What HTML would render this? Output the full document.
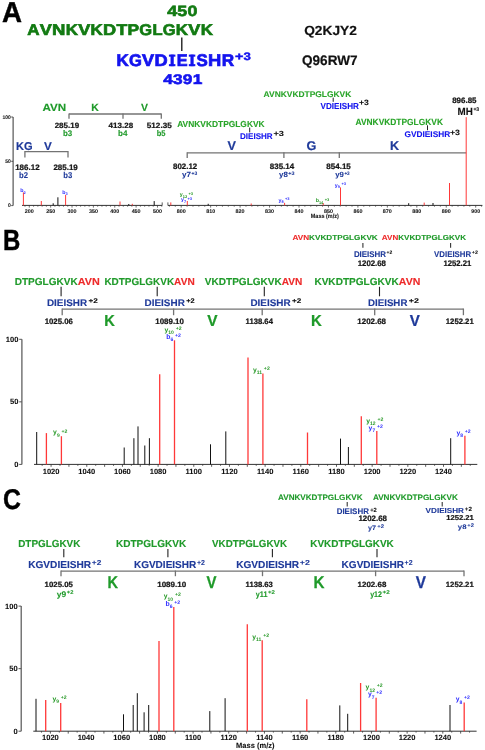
<!DOCTYPE html>
<html><head><meta charset="utf-8"><style>
html,body{margin:0;padding:0;background:#fff;}
svg{display:block;will-change:transform;}
text{font-family:"Liberation Sans",sans-serif;text-rendering:geometricPrecision;}
</style></head><body>
<svg width="485" height="750" viewBox="0 0 485 750">
<rect width="485" height="750" fill="#fff"/>
<text x="2.10" y="21.60" font-size="28.78" fill="#000" font-weight="bold" textLength="20.00" lengthAdjust="spacingAndGlyphs" stroke="#000" stroke-width="0.43">A</text>
<text x="27.24" y="35.00" font-size="15.55" fill="#127a12" font-weight="bold" textLength="12.29" lengthAdjust="spacingAndGlyphs" stroke="#127a12" stroke-width="0.66">A</text>
<text x="39.78" y="35.00" font-size="15.55" fill="#127a12" font-weight="bold" textLength="12.10" lengthAdjust="spacingAndGlyphs" stroke="#127a12" stroke-width="0.66">V</text>
<text x="52.14" y="35.00" font-size="15.55" fill="#127a12" font-weight="bold" textLength="13.41" lengthAdjust="spacingAndGlyphs" stroke="#127a12" stroke-width="0.66">N</text>
<text x="65.81" y="35.00" font-size="15.55" fill="#127a12" font-weight="bold" textLength="12.21" lengthAdjust="spacingAndGlyphs" stroke="#127a12" stroke-width="0.66">K</text>
<text x="78.27" y="35.00" font-size="15.55" fill="#127a12" font-weight="bold" textLength="12.10" lengthAdjust="spacingAndGlyphs" stroke="#127a12" stroke-width="0.66">V</text>
<text x="90.61" y="35.00" font-size="15.55" fill="#127a12" font-weight="bold" textLength="12.21" lengthAdjust="spacingAndGlyphs" stroke="#127a12" stroke-width="0.66">K</text>
<text x="103.08" y="35.00" font-size="15.55" fill="#127a12" font-weight="bold" textLength="13.14" lengthAdjust="spacingAndGlyphs" stroke="#127a12" stroke-width="0.66">D</text>
<text x="116.47" y="35.00" font-size="15.55" fill="#127a12" font-weight="bold" textLength="10.80" lengthAdjust="spacingAndGlyphs" stroke="#127a12" stroke-width="0.66">T</text>
<text x="127.50" y="35.00" font-size="15.55" fill="#127a12" font-weight="bold" textLength="11.61" lengthAdjust="spacingAndGlyphs" stroke="#127a12" stroke-width="0.66">P</text>
<text x="139.35" y="35.00" font-size="15.55" fill="#127a12" font-weight="bold" textLength="12.84" lengthAdjust="spacingAndGlyphs" stroke="#127a12" stroke-width="0.66">G</text>
<text x="152.43" y="35.00" font-size="15.55" fill="#127a12" font-weight="bold" textLength="10.09" lengthAdjust="spacingAndGlyphs" stroke="#127a12" stroke-width="0.66">L</text>
<text x="162.75" y="35.00" font-size="15.55" fill="#127a12" font-weight="bold" textLength="12.84" lengthAdjust="spacingAndGlyphs" stroke="#127a12" stroke-width="0.66">G</text>
<text x="175.85" y="35.00" font-size="15.55" fill="#127a12" font-weight="bold" textLength="12.21" lengthAdjust="spacingAndGlyphs" stroke="#127a12" stroke-width="0.66">K</text>
<text x="188.31" y="35.00" font-size="15.55" fill="#127a12" font-weight="bold" textLength="12.10" lengthAdjust="spacingAndGlyphs" stroke="#127a12" stroke-width="0.66">V</text>
<text x="200.65" y="35.00" font-size="15.55" fill="#127a12" font-weight="bold" textLength="12.21" lengthAdjust="spacingAndGlyphs" stroke="#127a12" stroke-width="0.66">K</text>
<text x="167.17" y="15.50" font-size="14.83" fill="#127a12" font-weight="bold" textLength="9.92" lengthAdjust="spacingAndGlyphs" stroke="#127a12" stroke-width="0.63">4</text>
<text x="177.29" y="15.50" font-size="14.83" fill="#127a12" font-weight="bold" textLength="9.92" lengthAdjust="spacingAndGlyphs" stroke="#127a12" stroke-width="0.63">5</text>
<text x="187.41" y="15.50" font-size="14.83" fill="#127a12" font-weight="bold" textLength="9.92" lengthAdjust="spacingAndGlyphs" stroke="#127a12" stroke-width="0.63">0</text>
<line x1="181.80" y1="37.50" x2="181.80" y2="51.00" stroke="#111" stroke-width="1.3"/>
<text x="116.44" y="66.20" font-size="16.86" fill="#1414ee" font-weight="bold" textLength="12.23" lengthAdjust="spacingAndGlyphs" stroke="#1414ee" stroke-width="0.72">K</text>
<text x="128.93" y="66.20" font-size="16.86" fill="#1414ee" font-weight="bold" textLength="12.87" lengthAdjust="spacingAndGlyphs" stroke="#1414ee" stroke-width="0.72">G</text>
<text x="142.05" y="66.20" font-size="16.86" fill="#1414ee" font-weight="bold" textLength="12.12" lengthAdjust="spacingAndGlyphs" stroke="#1414ee" stroke-width="0.72">V</text>
<text x="154.43" y="66.20" font-size="16.86" fill="#1414ee" font-weight="bold" textLength="13.17" lengthAdjust="spacingAndGlyphs" stroke="#1414ee" stroke-width="0.72">D</text>
<rect x="170.56" y="54.60" width="3.19" height="11.60" fill="#1414ee"/>
<rect x="168.92" y="54.60" width="6.48" height="2.07" fill="#1414ee"/>
<rect x="168.92" y="64.13" width="6.48" height="2.07" fill="#1414ee"/>
<text x="176.69" y="66.20" font-size="16.86" fill="#1414ee" font-weight="bold" textLength="10.84" lengthAdjust="spacingAndGlyphs" stroke="#1414ee" stroke-width="0.72">E</text>
<rect x="190.46" y="54.60" width="3.19" height="11.60" fill="#1414ee"/>
<rect x="188.82" y="54.60" width="6.48" height="2.07" fill="#1414ee"/>
<rect x="188.82" y="64.13" width="6.48" height="2.07" fill="#1414ee"/>
<text x="196.59" y="66.20" font-size="16.86" fill="#1414ee" font-weight="bold" textLength="11.27" lengthAdjust="spacingAndGlyphs" stroke="#1414ee" stroke-width="0.72">S</text>
<text x="208.11" y="66.20" font-size="16.86" fill="#1414ee" font-weight="bold" textLength="13.28" lengthAdjust="spacingAndGlyphs" stroke="#1414ee" stroke-width="0.72">H</text>
<text x="221.65" y="66.20" font-size="16.86" fill="#1414ee" font-weight="bold" textLength="12.41" lengthAdjust="spacingAndGlyphs" stroke="#1414ee" stroke-width="0.72">R</text>
<text x="235.07" y="60.30" font-size="10.76" fill="#1414ee" font-weight="bold" textLength="8.40" lengthAdjust="spacingAndGlyphs" stroke="#1414ee" stroke-width="0.46">+</text>
<text x="243.64" y="60.30" font-size="10.76" fill="#1414ee" font-weight="bold" textLength="7.30" lengthAdjust="spacingAndGlyphs" stroke="#1414ee" stroke-width="0.46">3</text>
<text x="163.18" y="83.60" font-size="13.95" fill="#1414ee" font-weight="bold" textLength="9.64" lengthAdjust="spacingAndGlyphs" stroke="#1414ee" stroke-width="0.59">4</text>
<text x="173.02" y="83.60" font-size="13.95" fill="#1414ee" font-weight="bold" textLength="9.64" lengthAdjust="spacingAndGlyphs" stroke="#1414ee" stroke-width="0.59">3</text>
<text x="182.85" y="83.60" font-size="13.95" fill="#1414ee" font-weight="bold" textLength="9.64" lengthAdjust="spacingAndGlyphs" stroke="#1414ee" stroke-width="0.59">9</text>
<text x="192.68" y="83.60" font-size="13.95" fill="#1414ee" font-weight="bold" textLength="9.64" lengthAdjust="spacingAndGlyphs" stroke="#1414ee" stroke-width="0.59">1</text>
<rect x="194.99" y="81.88" width="5.81" height="1.72" fill="#1414ee"/>
<text x="304.20" y="35.10" font-size="13.23" fill="#111111" font-weight="bold" textLength="52.60" lengthAdjust="spacingAndGlyphs" stroke="#111111" stroke-width="0.2">Q2KJY2</text>
<text x="302.00" y="65.30" font-size="13.81" fill="#111111" font-weight="bold" textLength="55.60" lengthAdjust="spacingAndGlyphs" stroke="#111111" stroke-width="0.21">Q96RW7</text>
<text x="42.50" y="111.20" font-size="10.47" fill="#1f9a2a" font-weight="bold" textLength="23.70" lengthAdjust="spacingAndGlyphs" stroke="#1f9a2a" stroke-width="0.13">AVN</text>
<text x="91.22" y="111.20" font-size="10.47" fill="#1f9a2a" font-weight="bold" textLength="7.56" lengthAdjust="spacingAndGlyphs" stroke="#1f9a2a" stroke-width="0.13">K</text>
<text x="141.11" y="111.20" font-size="10.47" fill="#1f9a2a" font-weight="bold" textLength="6.98" lengthAdjust="spacingAndGlyphs" stroke="#1f9a2a" stroke-width="0.13">V</text>
<line x1="69.00" y1="114.00" x2="161.30" y2="114.00" stroke="#737373" stroke-width="1.3"/>
<line x1="69.00" y1="113.40" x2="69.00" y2="118.70" stroke="#737373" stroke-width="1.3"/>
<line x1="123.00" y1="113.40" x2="123.00" y2="118.70" stroke="#737373" stroke-width="1.3"/>
<line x1="161.30" y1="113.40" x2="161.30" y2="118.70" stroke="#737373" stroke-width="1.3"/>
<text x="54.70" y="127.90" font-size="7.70" fill="#151515" font-weight="bold" textLength="24.40" lengthAdjust="spacingAndGlyphs" stroke="#151515" stroke-width="0.23">285.19</text>
<text x="108.60" y="127.90" font-size="7.70" fill="#151515" font-weight="bold" textLength="24.50" lengthAdjust="spacingAndGlyphs" stroke="#151515" stroke-width="0.23">413.28</text>
<text x="146.80" y="127.90" font-size="7.70" fill="#151515" font-weight="bold" textLength="24.90" lengthAdjust="spacingAndGlyphs" stroke="#151515" stroke-width="0.23">512.35</text>
<text x="63.00" y="135.80" font-size="8.14" fill="#1f9a2a" font-weight="bold" textLength="9.30" lengthAdjust="spacingAndGlyphs" stroke="#1f9a2a" stroke-width="0.1">b3</text>
<text x="118.00" y="135.80" font-size="8.14" fill="#1f9a2a" font-weight="bold" textLength="9.40" lengthAdjust="spacingAndGlyphs" stroke="#1f9a2a" stroke-width="0.1">b4</text>
<text x="156.70" y="135.80" font-size="8.14" fill="#1f9a2a" font-weight="bold" textLength="8.90" lengthAdjust="spacingAndGlyphs" stroke="#1f9a2a" stroke-width="0.1">b5</text>
<text x="16.00" y="149.60" font-size="11.34" fill="#1f3a9a" font-weight="bold" textLength="16.60" lengthAdjust="spacingAndGlyphs" stroke="#1f3a9a" stroke-width="0.17">KG</text>
<text x="44.00" y="149.60" font-size="11.34" fill="#1f3a9a" font-weight="bold" textLength="7.80" lengthAdjust="spacingAndGlyphs" stroke="#1f3a9a" stroke-width="0.17">V</text>
<line x1="24.90" y1="151.60" x2="68.00" y2="151.60" stroke="#737373" stroke-width="1.3"/>
<line x1="24.90" y1="151.00" x2="24.90" y2="157.40" stroke="#737373" stroke-width="1.3"/>
<line x1="68.00" y1="151.00" x2="68.00" y2="157.40" stroke="#737373" stroke-width="1.3"/>
<text x="15.20" y="169.60" font-size="7.85" fill="#151515" font-weight="bold" textLength="24.40" lengthAdjust="spacingAndGlyphs" stroke="#151515" stroke-width="0.24">186.12</text>
<text x="53.40" y="169.60" font-size="7.85" fill="#151515" font-weight="bold" textLength="24.40" lengthAdjust="spacingAndGlyphs" stroke="#151515" stroke-width="0.24">285.19</text>
<text x="19.00" y="177.60" font-size="8.43" fill="#1f3a9a" font-weight="bold" textLength="9.00" lengthAdjust="spacingAndGlyphs" stroke="#1f3a9a" stroke-width="0.1">b2</text>
<text x="63.20" y="177.60" font-size="8.43" fill="#1f3a9a" font-weight="bold" textLength="9.00" lengthAdjust="spacingAndGlyphs" stroke="#1f3a9a" stroke-width="0.1">b3</text>
<text x="177.20" y="127.30" font-size="8.72" fill="#2aa52a" font-weight="bold" textLength="87.40" lengthAdjust="spacingAndGlyphs" stroke="#2aa52a" stroke-width="0.1">AVNKVKDTPGLGKVK</text>
<line x1="249.70" y1="127.60" x2="249.70" y2="132.40" stroke="#222" stroke-width="1"/>
<text x="240.00" y="139.30" font-size="8.28" fill="#1414ee" font-weight="bold" textLength="32.70" lengthAdjust="spacingAndGlyphs" stroke="#1414ee" stroke-width="0.1">DIEISHR</text>
<text x="273.40" y="136.10" font-size="7.41" fill="#111111" font-weight="bold" textLength="10.50" lengthAdjust="spacingAndGlyphs" stroke="#111111" stroke-width="0.09">+3</text>
<text x="227.38" y="150.00" font-size="12.65" fill="#1f3a9a" font-weight="bold" textLength="8.43" lengthAdjust="spacingAndGlyphs" stroke="#1f3a9a" stroke-width="0.19">V</text>
<text x="306.48" y="150.00" font-size="12.65" fill="#1f3a9a" font-weight="bold" textLength="9.84" lengthAdjust="spacingAndGlyphs" stroke="#1f3a9a" stroke-width="0.19">G</text>
<text x="390.03" y="150.00" font-size="12.65" fill="#1f3a9a" font-weight="bold" textLength="9.13" lengthAdjust="spacingAndGlyphs" stroke="#1f3a9a" stroke-width="0.19">K</text>
<line x1="187.20" y1="152.80" x2="466.20" y2="152.80" stroke="#737373" stroke-width="1.3"/>
<line x1="187.20" y1="152.20" x2="187.20" y2="158.10" stroke="#737373" stroke-width="1.3"/>
<line x1="283.90" y1="152.20" x2="283.90" y2="158.10" stroke="#737373" stroke-width="1.3"/>
<line x1="339.30" y1="152.20" x2="339.30" y2="158.10" stroke="#737373" stroke-width="1.3"/>
<text x="173.00" y="169.10" font-size="7.85" fill="#151515" font-weight="bold" textLength="24.20" lengthAdjust="spacingAndGlyphs" stroke="#151515" stroke-width="0.24">802.12</text>
<text x="269.80" y="169.00" font-size="7.85" fill="#151515" font-weight="bold" textLength="24.40" lengthAdjust="spacingAndGlyphs" stroke="#151515" stroke-width="0.24">835.14</text>
<text x="326.30" y="169.00" font-size="7.85" fill="#151515" font-weight="bold" textLength="24.50" lengthAdjust="spacingAndGlyphs" stroke="#151515" stroke-width="0.24">854.15</text>
<text x="182.00" y="177.20" font-size="7.56" fill="#1f3a9a" font-weight="bold" textLength="9.00" lengthAdjust="spacingAndGlyphs" stroke="#1f3a9a" stroke-width="0.09">y7</text>
<text x="191.50" y="175.20" font-size="4.94" fill="#1f3a9a" font-weight="bold" textLength="5.70" lengthAdjust="spacingAndGlyphs" stroke="#1f3a9a" stroke-width="0.06">+3</text>
<text x="279.00" y="177.20" font-size="7.56" fill="#1f3a9a" font-weight="bold" textLength="8.80" lengthAdjust="spacingAndGlyphs" stroke="#1f3a9a" stroke-width="0.09">y8</text>
<text x="288.30" y="175.20" font-size="4.94" fill="#1f3a9a" font-weight="bold" textLength="6.20" lengthAdjust="spacingAndGlyphs" stroke="#1f3a9a" stroke-width="0.06">+3</text>
<text x="335.30" y="177.20" font-size="7.56" fill="#1f3a9a" font-weight="bold" textLength="8.60" lengthAdjust="spacingAndGlyphs" stroke="#1f3a9a" stroke-width="0.09">y9</text>
<text x="344.40" y="175.20" font-size="4.94" fill="#1f3a9a" font-weight="bold" textLength="5.30" lengthAdjust="spacingAndGlyphs" stroke="#1f3a9a" stroke-width="0.06">+3</text>
<text x="263.60" y="97.00" font-size="8.14" fill="#2aa52a" font-weight="bold" textLength="87.70" lengthAdjust="spacingAndGlyphs" stroke="#2aa52a" stroke-width="0.1">AVNKVKDTPGLGKVK</text>
<line x1="333.20" y1="97.60" x2="333.20" y2="101.80" stroke="#222" stroke-width="1"/>
<text x="320.60" y="108.60" font-size="8.72" fill="#1414ee" font-weight="bold" textLength="38.30" lengthAdjust="spacingAndGlyphs" stroke="#1414ee" stroke-width="0.1">VDIEISHR</text>
<text x="358.90" y="105.30" font-size="7.70" fill="#111111" font-weight="bold" textLength="9.90" lengthAdjust="spacingAndGlyphs" stroke="#111111" stroke-width="0.09">+3</text>
<text x="355.50" y="125.00" font-size="9.01" fill="#2aa52a" font-weight="bold" textLength="87.50" lengthAdjust="spacingAndGlyphs" stroke="#2aa52a" stroke-width="0.11">AVNKVKDTPGLGKVK</text>
<line x1="427.50" y1="125.30" x2="427.50" y2="130.20" stroke="#222" stroke-width="1"/>
<text x="404.50" y="137.30" font-size="8.28" fill="#1414ee" font-weight="bold" textLength="45.70" lengthAdjust="spacingAndGlyphs" stroke="#1414ee" stroke-width="0.1">GVDIEISHR</text>
<text x="449.90" y="135.30" font-size="7.70" fill="#111111" font-weight="bold" textLength="10.10" lengthAdjust="spacingAndGlyphs" stroke="#111111" stroke-width="0.09">+3</text>
<text x="452.20" y="103.00" font-size="7.85" fill="#151515" font-weight="bold" textLength="24.30" lengthAdjust="spacingAndGlyphs" stroke="#151515" stroke-width="0.24">896.85</text>
<text x="457.60" y="115.20" font-size="10.47" fill="#111111" font-weight="bold" textLength="15.30" lengthAdjust="spacingAndGlyphs" stroke="#111111" stroke-width="0.13">MH</text>
<text x="473.40" y="110.80" font-size="5.52" fill="#111111" font-weight="bold" textLength="5.80" lengthAdjust="spacingAndGlyphs" stroke="#111111" stroke-width="0.07">+3</text>
<line x1="13.10" y1="117.00" x2="13.10" y2="205.60" stroke="#333" stroke-width="1"/>
<line x1="11.20" y1="117.00" x2="13.10" y2="117.00" stroke="#333" stroke-width="0.8"/>
<text x="2.46" y="118.80" font-size="5.23" fill="#111111" font-weight="bold" textLength="8.34" lengthAdjust="spacingAndGlyphs" stroke="#111111" stroke-width="0.06">100</text>
<line x1="11.20" y1="161.30" x2="13.10" y2="161.30" stroke="#333" stroke-width="0.8"/>
<text x="5.24" y="163.10" font-size="5.23" fill="#111111" font-weight="bold" textLength="5.56" lengthAdjust="spacingAndGlyphs" stroke="#111111" stroke-width="0.06">50</text>
<line x1="11.20" y1="205.60" x2="13.10" y2="205.60" stroke="#333" stroke-width="0.8"/>
<text x="8.02" y="207.40" font-size="5.23" fill="#111111" font-weight="bold" textLength="2.78" lengthAdjust="spacingAndGlyphs" stroke="#111111" stroke-width="0.06">0</text>
<line x1="22.00" y1="205.40" x2="162.20" y2="205.40" stroke="#333" stroke-width="1"/>
<line x1="162.20" y1="205.40" x2="162.20" y2="202.40" stroke="#333" stroke-width="0.8"/>
<line x1="25.03" y1="205.40" x2="25.03" y2="206.70" stroke="#333" stroke-width="0.7"/>
<line x1="29.30" y1="205.40" x2="29.30" y2="207.60" stroke="#333" stroke-width="0.7"/>
<line x1="33.57" y1="205.40" x2="33.57" y2="206.70" stroke="#333" stroke-width="0.7"/>
<line x1="37.85" y1="205.40" x2="37.85" y2="206.70" stroke="#333" stroke-width="0.7"/>
<line x1="42.12" y1="205.40" x2="42.12" y2="206.70" stroke="#333" stroke-width="0.7"/>
<line x1="46.39" y1="205.40" x2="46.39" y2="206.70" stroke="#333" stroke-width="0.7"/>
<line x1="50.67" y1="205.40" x2="50.67" y2="207.60" stroke="#333" stroke-width="0.7"/>
<line x1="54.94" y1="205.40" x2="54.94" y2="206.70" stroke="#333" stroke-width="0.7"/>
<line x1="59.21" y1="205.40" x2="59.21" y2="206.70" stroke="#333" stroke-width="0.7"/>
<line x1="63.48" y1="205.40" x2="63.48" y2="206.70" stroke="#333" stroke-width="0.7"/>
<line x1="67.76" y1="205.40" x2="67.76" y2="206.70" stroke="#333" stroke-width="0.7"/>
<line x1="72.03" y1="205.40" x2="72.03" y2="207.60" stroke="#333" stroke-width="0.7"/>
<line x1="76.30" y1="205.40" x2="76.30" y2="206.70" stroke="#333" stroke-width="0.7"/>
<line x1="80.58" y1="205.40" x2="80.58" y2="206.70" stroke="#333" stroke-width="0.7"/>
<line x1="84.85" y1="205.40" x2="84.85" y2="206.70" stroke="#333" stroke-width="0.7"/>
<line x1="89.12" y1="205.40" x2="89.12" y2="206.70" stroke="#333" stroke-width="0.7"/>
<line x1="93.39" y1="205.40" x2="93.39" y2="207.60" stroke="#333" stroke-width="0.7"/>
<line x1="97.67" y1="205.40" x2="97.67" y2="206.70" stroke="#333" stroke-width="0.7"/>
<line x1="101.94" y1="205.40" x2="101.94" y2="206.70" stroke="#333" stroke-width="0.7"/>
<line x1="106.21" y1="205.40" x2="106.21" y2="206.70" stroke="#333" stroke-width="0.7"/>
<line x1="110.49" y1="205.40" x2="110.49" y2="206.70" stroke="#333" stroke-width="0.7"/>
<line x1="114.76" y1="205.40" x2="114.76" y2="207.60" stroke="#333" stroke-width="0.7"/>
<line x1="119.03" y1="205.40" x2="119.03" y2="206.70" stroke="#333" stroke-width="0.7"/>
<line x1="123.31" y1="205.40" x2="123.31" y2="206.70" stroke="#333" stroke-width="0.7"/>
<line x1="127.58" y1="205.40" x2="127.58" y2="206.70" stroke="#333" stroke-width="0.7"/>
<line x1="131.85" y1="205.40" x2="131.85" y2="206.70" stroke="#333" stroke-width="0.7"/>
<line x1="136.12" y1="205.40" x2="136.12" y2="207.60" stroke="#333" stroke-width="0.7"/>
<line x1="140.40" y1="205.40" x2="140.40" y2="206.70" stroke="#333" stroke-width="0.7"/>
<line x1="144.67" y1="205.40" x2="144.67" y2="206.70" stroke="#333" stroke-width="0.7"/>
<line x1="148.94" y1="205.40" x2="148.94" y2="206.70" stroke="#333" stroke-width="0.7"/>
<line x1="153.22" y1="205.40" x2="153.22" y2="206.70" stroke="#333" stroke-width="0.7"/>
<line x1="157.49" y1="205.40" x2="157.49" y2="207.60" stroke="#333" stroke-width="0.7"/>
<line x1="161.76" y1="205.40" x2="161.76" y2="206.70" stroke="#333" stroke-width="0.7"/>
<text x="24.81" y="212.60" font-size="5.38" fill="#111111" font-weight="bold" textLength="8.97" lengthAdjust="spacingAndGlyphs" stroke="#111111" stroke-width="0.06">200</text>
<text x="46.18" y="212.60" font-size="5.38" fill="#111111" font-weight="bold" textLength="8.97" lengthAdjust="spacingAndGlyphs" stroke="#111111" stroke-width="0.06">250</text>
<text x="67.54" y="212.60" font-size="5.38" fill="#111111" font-weight="bold" textLength="8.97" lengthAdjust="spacingAndGlyphs" stroke="#111111" stroke-width="0.06">300</text>
<text x="88.91" y="212.60" font-size="5.38" fill="#111111" font-weight="bold" textLength="8.97" lengthAdjust="spacingAndGlyphs" stroke="#111111" stroke-width="0.06">350</text>
<text x="110.27" y="212.60" font-size="5.38" fill="#111111" font-weight="bold" textLength="8.97" lengthAdjust="spacingAndGlyphs" stroke="#111111" stroke-width="0.06">400</text>
<text x="131.64" y="212.60" font-size="5.38" fill="#111111" font-weight="bold" textLength="8.97" lengthAdjust="spacingAndGlyphs" stroke="#111111" stroke-width="0.06">450</text>
<text x="153.00" y="212.60" font-size="5.38" fill="#111111" font-weight="bold" textLength="8.97" lengthAdjust="spacingAndGlyphs" stroke="#111111" stroke-width="0.06">500</text>
<line x1="167.90" y1="205.40" x2="482.40" y2="205.40" stroke="#333" stroke-width="1"/>
<line x1="167.90" y1="205.40" x2="167.90" y2="202.40" stroke="#333" stroke-width="0.8"/>
<line x1="169.42" y1="205.40" x2="169.42" y2="206.70" stroke="#333" stroke-width="0.7"/>
<line x1="175.31" y1="205.40" x2="175.31" y2="206.70" stroke="#333" stroke-width="0.7"/>
<line x1="181.20" y1="205.40" x2="181.20" y2="207.60" stroke="#333" stroke-width="0.7"/>
<line x1="187.09" y1="205.40" x2="187.09" y2="206.70" stroke="#333" stroke-width="0.7"/>
<line x1="192.98" y1="205.40" x2="192.98" y2="206.70" stroke="#333" stroke-width="0.7"/>
<line x1="198.87" y1="205.40" x2="198.87" y2="206.70" stroke="#333" stroke-width="0.7"/>
<line x1="204.76" y1="205.40" x2="204.76" y2="206.70" stroke="#333" stroke-width="0.7"/>
<line x1="210.65" y1="205.40" x2="210.65" y2="207.60" stroke="#333" stroke-width="0.7"/>
<line x1="216.54" y1="205.40" x2="216.54" y2="206.70" stroke="#333" stroke-width="0.7"/>
<line x1="222.43" y1="205.40" x2="222.43" y2="206.70" stroke="#333" stroke-width="0.7"/>
<line x1="228.32" y1="205.40" x2="228.32" y2="206.70" stroke="#333" stroke-width="0.7"/>
<line x1="234.21" y1="205.40" x2="234.21" y2="206.70" stroke="#333" stroke-width="0.7"/>
<line x1="240.10" y1="205.40" x2="240.10" y2="207.60" stroke="#333" stroke-width="0.7"/>
<line x1="245.99" y1="205.40" x2="245.99" y2="206.70" stroke="#333" stroke-width="0.7"/>
<line x1="251.88" y1="205.40" x2="251.88" y2="206.70" stroke="#333" stroke-width="0.7"/>
<line x1="257.77" y1="205.40" x2="257.77" y2="206.70" stroke="#333" stroke-width="0.7"/>
<line x1="263.66" y1="205.40" x2="263.66" y2="206.70" stroke="#333" stroke-width="0.7"/>
<line x1="269.55" y1="205.40" x2="269.55" y2="207.60" stroke="#333" stroke-width="0.7"/>
<line x1="275.44" y1="205.40" x2="275.44" y2="206.70" stroke="#333" stroke-width="0.7"/>
<line x1="281.33" y1="205.40" x2="281.33" y2="206.70" stroke="#333" stroke-width="0.7"/>
<line x1="287.22" y1="205.40" x2="287.22" y2="206.70" stroke="#333" stroke-width="0.7"/>
<line x1="293.11" y1="205.40" x2="293.11" y2="206.70" stroke="#333" stroke-width="0.7"/>
<line x1="299.00" y1="205.40" x2="299.00" y2="207.60" stroke="#333" stroke-width="0.7"/>
<line x1="304.89" y1="205.40" x2="304.89" y2="206.70" stroke="#333" stroke-width="0.7"/>
<line x1="310.78" y1="205.40" x2="310.78" y2="206.70" stroke="#333" stroke-width="0.7"/>
<line x1="316.67" y1="205.40" x2="316.67" y2="206.70" stroke="#333" stroke-width="0.7"/>
<line x1="322.56" y1="205.40" x2="322.56" y2="206.70" stroke="#333" stroke-width="0.7"/>
<line x1="328.45" y1="205.40" x2="328.45" y2="207.60" stroke="#333" stroke-width="0.7"/>
<line x1="334.34" y1="205.40" x2="334.34" y2="206.70" stroke="#333" stroke-width="0.7"/>
<line x1="340.23" y1="205.40" x2="340.23" y2="206.70" stroke="#333" stroke-width="0.7"/>
<line x1="346.12" y1="205.40" x2="346.12" y2="206.70" stroke="#333" stroke-width="0.7"/>
<line x1="352.01" y1="205.40" x2="352.01" y2="206.70" stroke="#333" stroke-width="0.7"/>
<line x1="357.90" y1="205.40" x2="357.90" y2="207.60" stroke="#333" stroke-width="0.7"/>
<line x1="363.79" y1="205.40" x2="363.79" y2="206.70" stroke="#333" stroke-width="0.7"/>
<line x1="369.68" y1="205.40" x2="369.68" y2="206.70" stroke="#333" stroke-width="0.7"/>
<line x1="375.57" y1="205.40" x2="375.57" y2="206.70" stroke="#333" stroke-width="0.7"/>
<line x1="381.46" y1="205.40" x2="381.46" y2="206.70" stroke="#333" stroke-width="0.7"/>
<line x1="387.35" y1="205.40" x2="387.35" y2="207.60" stroke="#333" stroke-width="0.7"/>
<line x1="393.24" y1="205.40" x2="393.24" y2="206.70" stroke="#333" stroke-width="0.7"/>
<line x1="399.13" y1="205.40" x2="399.13" y2="206.70" stroke="#333" stroke-width="0.7"/>
<line x1="405.02" y1="205.40" x2="405.02" y2="206.70" stroke="#333" stroke-width="0.7"/>
<line x1="410.91" y1="205.40" x2="410.91" y2="206.70" stroke="#333" stroke-width="0.7"/>
<line x1="416.80" y1="205.40" x2="416.80" y2="207.60" stroke="#333" stroke-width="0.7"/>
<line x1="422.69" y1="205.40" x2="422.69" y2="206.70" stroke="#333" stroke-width="0.7"/>
<line x1="428.58" y1="205.40" x2="428.58" y2="206.70" stroke="#333" stroke-width="0.7"/>
<line x1="434.47" y1="205.40" x2="434.47" y2="206.70" stroke="#333" stroke-width="0.7"/>
<line x1="440.36" y1="205.40" x2="440.36" y2="206.70" stroke="#333" stroke-width="0.7"/>
<line x1="446.25" y1="205.40" x2="446.25" y2="207.60" stroke="#333" stroke-width="0.7"/>
<line x1="452.14" y1="205.40" x2="452.14" y2="206.70" stroke="#333" stroke-width="0.7"/>
<line x1="458.03" y1="205.40" x2="458.03" y2="206.70" stroke="#333" stroke-width="0.7"/>
<line x1="463.92" y1="205.40" x2="463.92" y2="206.70" stroke="#333" stroke-width="0.7"/>
<line x1="469.81" y1="205.40" x2="469.81" y2="206.70" stroke="#333" stroke-width="0.7"/>
<line x1="475.70" y1="205.40" x2="475.70" y2="207.60" stroke="#333" stroke-width="0.7"/>
<line x1="481.59" y1="205.40" x2="481.59" y2="206.70" stroke="#333" stroke-width="0.7"/>
<text x="176.71" y="212.60" font-size="5.38" fill="#111111" font-weight="bold" textLength="8.97" lengthAdjust="spacingAndGlyphs" stroke="#111111" stroke-width="0.06">800</text>
<text x="206.16" y="212.60" font-size="5.38" fill="#111111" font-weight="bold" textLength="8.97" lengthAdjust="spacingAndGlyphs" stroke="#111111" stroke-width="0.06">810</text>
<text x="235.61" y="212.60" font-size="5.38" fill="#111111" font-weight="bold" textLength="8.97" lengthAdjust="spacingAndGlyphs" stroke="#111111" stroke-width="0.06">820</text>
<text x="265.06" y="212.60" font-size="5.38" fill="#111111" font-weight="bold" textLength="8.97" lengthAdjust="spacingAndGlyphs" stroke="#111111" stroke-width="0.06">830</text>
<text x="294.51" y="212.60" font-size="5.38" fill="#111111" font-weight="bold" textLength="8.97" lengthAdjust="spacingAndGlyphs" stroke="#111111" stroke-width="0.06">840</text>
<text x="323.96" y="212.60" font-size="5.38" fill="#111111" font-weight="bold" textLength="8.97" lengthAdjust="spacingAndGlyphs" stroke="#111111" stroke-width="0.06">850</text>
<text x="353.41" y="212.60" font-size="5.38" fill="#111111" font-weight="bold" textLength="8.97" lengthAdjust="spacingAndGlyphs" stroke="#111111" stroke-width="0.06">860</text>
<text x="382.86" y="212.60" font-size="5.38" fill="#111111" font-weight="bold" textLength="8.97" lengthAdjust="spacingAndGlyphs" stroke="#111111" stroke-width="0.06">870</text>
<text x="412.31" y="212.60" font-size="5.38" fill="#111111" font-weight="bold" textLength="8.97" lengthAdjust="spacingAndGlyphs" stroke="#111111" stroke-width="0.06">880</text>
<text x="441.76" y="212.60" font-size="5.38" fill="#111111" font-weight="bold" textLength="8.97" lengthAdjust="spacingAndGlyphs" stroke="#111111" stroke-width="0.06">890</text>
<text x="471.21" y="212.60" font-size="5.38" fill="#111111" font-weight="bold" textLength="8.97" lengthAdjust="spacingAndGlyphs" stroke="#111111" stroke-width="0.06">900</text>
<text x="310.80" y="217.60" font-size="6.10" fill="#111111" font-weight="bold" textLength="27.90" lengthAdjust="spacingAndGlyphs" stroke="#111111" stroke-width="0.07">Mass (m/z)</text>
<line x1="23.40" y1="205.40" x2="23.40" y2="192.40" stroke="#ff3838" stroke-width="1.0"/>
<line x1="41.30" y1="205.40" x2="41.30" y2="201.00" stroke="#ff3838" stroke-width="1.0"/>
<line x1="53.20" y1="205.40" x2="53.20" y2="203.30" stroke="#111111" stroke-width="1.0"/>
<line x1="57.90" y1="205.40" x2="57.90" y2="197.30" stroke="#111111" stroke-width="1.0"/>
<line x1="65.60" y1="205.40" x2="65.60" y2="195.00" stroke="#ff3838" stroke-width="1.0"/>
<line x1="120.00" y1="205.40" x2="120.00" y2="201.50" stroke="#ff3838" stroke-width="1.0"/>
<line x1="128.80" y1="205.40" x2="128.80" y2="204.00" stroke="#111111" stroke-width="1.0"/>
<line x1="132.30" y1="205.40" x2="132.30" y2="203.80" stroke="#ff3838" stroke-width="1.0"/>
<line x1="154.20" y1="205.40" x2="154.20" y2="201.10" stroke="#111111" stroke-width="1.0"/>
<line x1="170.80" y1="205.40" x2="170.80" y2="202.40" stroke="#ff3838" stroke-width="1.0"/>
<line x1="187.30" y1="205.40" x2="187.30" y2="201.00" stroke="#ff3838" stroke-width="1.0"/>
<line x1="208.20" y1="205.40" x2="208.20" y2="203.80" stroke="#111111" stroke-width="1.0"/>
<line x1="251.20" y1="205.40" x2="251.20" y2="203.50" stroke="#ff3838" stroke-width="1.0"/>
<line x1="284.60" y1="205.40" x2="284.60" y2="202.80" stroke="#ff3838" stroke-width="1.0"/>
<line x1="323.20" y1="205.40" x2="323.20" y2="203.00" stroke="#ff3838" stroke-width="1.0"/>
<line x1="340.50" y1="205.40" x2="340.50" y2="187.40" stroke="#ff3838" stroke-width="1.0"/>
<line x1="408.70" y1="205.40" x2="408.70" y2="203.20" stroke="#111111" stroke-width="1.0"/>
<line x1="424.20" y1="205.40" x2="424.20" y2="202.60" stroke="#ff3838" stroke-width="1.0"/>
<line x1="433.00" y1="205.40" x2="433.00" y2="203.00" stroke="#111111" stroke-width="1.0"/>
<line x1="449.50" y1="205.40" x2="449.50" y2="183.00" stroke="#ff3838" stroke-width="1.0"/>
<line x1="466.20" y1="205.40" x2="466.20" y2="117.20" stroke="#ff3838" stroke-width="1.0"/>
<text x="20.37" y="192.00" font-size="5.30" fill="#3333ff" font-weight="bold">b</text>
<text x="23.61" y="193.79" font-size="3.90" fill="#3333ff" font-weight="bold">2</text>
<text x="62.37" y="193.60" font-size="5.30" fill="#3333ff" font-weight="bold">b</text>
<text x="65.61" y="195.39" font-size="3.90" fill="#3333ff" font-weight="bold">3</text>
<text x="179.77" y="196.00" font-size="5.30" fill="#2a9a2a" font-weight="bold">y</text>
<text x="182.72" y="197.79" font-size="3.90" fill="#2a9a2a" font-weight="bold">12</text>
<text x="188.46" y="194.60" font-size="4.06" fill="#2a9a2a" font-weight="bold">+3</text>
<text x="180.97" y="201.10" font-size="5.30" fill="#3333ff" font-weight="bold">y</text>
<text x="183.92" y="202.89" font-size="3.90" fill="#3333ff" font-weight="bold">7</text>
<text x="187.49" y="199.70" font-size="4.06" fill="#3333ff" font-weight="bold">+3</text>
<text x="278.47" y="201.70" font-size="5.30" fill="#3333ff" font-weight="bold">y</text>
<text x="281.42" y="203.49" font-size="3.90" fill="#3333ff" font-weight="bold">8</text>
<text x="284.99" y="200.30" font-size="4.06" fill="#3333ff" font-weight="bold">+3</text>
<text x="315.67" y="202.00" font-size="5.30" fill="#2a9a2a" font-weight="bold">b</text>
<text x="318.91" y="203.79" font-size="3.90" fill="#2a9a2a" font-weight="bold">14</text>
<text x="324.65" y="200.60" font-size="4.06" fill="#2a9a2a" font-weight="bold">+3</text>
<text x="334.87" y="186.50" font-size="5.30" fill="#3333ff" font-weight="bold">y</text>
<text x="337.82" y="188.29" font-size="3.90" fill="#3333ff" font-weight="bold">9</text>
<text x="341.39" y="185.10" font-size="4.06" fill="#3333ff" font-weight="bold">+3</text>
<text x="3.10" y="249.60" font-size="29.07" fill="#000" font-weight="bold" textLength="17.30" lengthAdjust="spacingAndGlyphs" stroke="#000" stroke-width="0.44">B</text>
<text x="292.40" y="240.00" font-size="7.27" fill="#ee2a2a" font-weight="bold" textLength="16.69" lengthAdjust="spacingAndGlyphs" stroke="#ee2a2a" stroke-width="0.09">AVN</text>
<text x="309.09" y="240.00" font-size="7.27" fill="#1f9a2a" font-weight="bold" textLength="68.71" lengthAdjust="spacingAndGlyphs" stroke="#1f9a2a" stroke-width="0.09">KVKDTPGLGKVK</text>
<text x="381.80" y="240.00" font-size="7.27" fill="#ee2a2a" font-weight="bold" textLength="16.45" lengthAdjust="spacingAndGlyphs" stroke="#ee2a2a" stroke-width="0.09">AVN</text>
<text x="398.25" y="240.00" font-size="7.27" fill="#1f9a2a" font-weight="bold" textLength="67.75" lengthAdjust="spacingAndGlyphs" stroke="#1f9a2a" stroke-width="0.09">KVKDTPGLGKVK</text>
<line x1="362.90" y1="243.00" x2="362.90" y2="247.80" stroke="#333" stroke-width="1.1"/>
<line x1="450.60" y1="243.00" x2="450.60" y2="247.80" stroke="#333" stroke-width="1.1"/>
<text x="353.90" y="256.50" font-size="8.28" fill="#1f3a9a" font-weight="bold" textLength="32.20" lengthAdjust="spacingAndGlyphs" stroke="#1f3a9a" stroke-width="0.1">DIEISHR</text>
<text x="386.60" y="254.40" font-size="5.09" fill="#111111" font-weight="bold" textLength="5.70" lengthAdjust="spacingAndGlyphs" stroke="#111111" stroke-width="0.06">+2</text>
<text x="434.10" y="256.50" font-size="8.28" fill="#1f3a9a" font-weight="bold" textLength="37.10" lengthAdjust="spacingAndGlyphs" stroke="#1f3a9a" stroke-width="0.1">VDIEISHR</text>
<text x="471.80" y="254.40" font-size="5.09" fill="#111111" font-weight="bold" textLength="6.10" lengthAdjust="spacingAndGlyphs" stroke="#111111" stroke-width="0.06">+2</text>
<text x="357.70" y="266.00" font-size="7.99" fill="#151515" font-weight="bold" textLength="28.30" lengthAdjust="spacingAndGlyphs" stroke="#151515" stroke-width="0.24">1202.68</text>
<text x="443.40" y="266.00" font-size="7.99" fill="#151515" font-weight="bold" textLength="27.80" lengthAdjust="spacingAndGlyphs" stroke="#151515" stroke-width="0.24">1252.21</text>
<text x="14.70" y="285.40" font-size="10.17" fill="#1f9a2a" font-weight="bold" textLength="63.00" lengthAdjust="spacingAndGlyphs" stroke="#1f9a2a" stroke-width="0.12">DTPGLGKVK</text>
<text x="77.70" y="285.40" font-size="10.17" fill="#ee2a2a" font-weight="bold" textLength="22.00" lengthAdjust="spacingAndGlyphs" stroke="#ee2a2a" stroke-width="0.12">AVN</text>
<line x1="61.10" y1="286.80" x2="61.10" y2="296.30" stroke="#222" stroke-width="1.1"/>
<text x="46.90" y="306.20" font-size="9.59" fill="#1f3a9a" font-weight="bold" textLength="40.20" lengthAdjust="spacingAndGlyphs" stroke="#1f3a9a" stroke-width="0.12">DIEISHR</text>
<text x="88.50" y="303.20" font-size="6.83" fill="#111111" font-weight="bold" textLength="9.40" lengthAdjust="spacingAndGlyphs" stroke="#111111" stroke-width="0.08">+2</text>
<text x="104.40" y="285.40" font-size="10.17" fill="#1f9a2a" font-weight="bold" textLength="69.70" lengthAdjust="spacingAndGlyphs" stroke="#1f9a2a" stroke-width="0.12">KDTPGLGKVK</text>
<text x="174.10" y="285.40" font-size="10.17" fill="#ee2a2a" font-weight="bold" textLength="20.60" lengthAdjust="spacingAndGlyphs" stroke="#ee2a2a" stroke-width="0.12">AVN</text>
<line x1="157.20" y1="286.80" x2="157.20" y2="296.30" stroke="#222" stroke-width="1.1"/>
<text x="144.60" y="306.20" font-size="9.59" fill="#1f3a9a" font-weight="bold" textLength="40.20" lengthAdjust="spacingAndGlyphs" stroke="#1f3a9a" stroke-width="0.12">DIEISHR</text>
<text x="186.20" y="303.20" font-size="6.83" fill="#111111" font-weight="bold" textLength="8.50" lengthAdjust="spacingAndGlyphs" stroke="#111111" stroke-width="0.08">+2</text>
<text x="204.80" y="285.40" font-size="10.17" fill="#1f9a2a" font-weight="bold" textLength="77.00" lengthAdjust="spacingAndGlyphs" stroke="#1f9a2a" stroke-width="0.12">VKDTPGLGKVK</text>
<text x="281.80" y="285.40" font-size="10.17" fill="#ee2a2a" font-weight="bold" textLength="20.60" lengthAdjust="spacingAndGlyphs" stroke="#ee2a2a" stroke-width="0.12">AVN</text>
<line x1="264.30" y1="286.80" x2="264.30" y2="296.30" stroke="#222" stroke-width="1.1"/>
<text x="250.40" y="306.20" font-size="9.59" fill="#1f3a9a" font-weight="bold" textLength="40.20" lengthAdjust="spacingAndGlyphs" stroke="#1f3a9a" stroke-width="0.12">DIEISHR</text>
<text x="292.00" y="303.20" font-size="6.83" fill="#111111" font-weight="bold" textLength="9.30" lengthAdjust="spacingAndGlyphs" stroke="#111111" stroke-width="0.08">+2</text>
<text x="314.40" y="285.40" font-size="10.17" fill="#1f9a2a" font-weight="bold" textLength="84.40" lengthAdjust="spacingAndGlyphs" stroke="#1f9a2a" stroke-width="0.12">KVKDTPGLGKVK</text>
<text x="398.80" y="285.40" font-size="10.17" fill="#ee2a2a" font-weight="bold" textLength="21.50" lengthAdjust="spacingAndGlyphs" stroke="#ee2a2a" stroke-width="0.12">AVN</text>
<line x1="379.50" y1="286.80" x2="379.50" y2="296.30" stroke="#222" stroke-width="1.1"/>
<text x="368.00" y="306.20" font-size="9.59" fill="#1f3a9a" font-weight="bold" textLength="39.40" lengthAdjust="spacingAndGlyphs" stroke="#1f3a9a" stroke-width="0.12">DIEISHR</text>
<text x="408.80" y="303.20" font-size="6.83" fill="#111111" font-weight="bold" textLength="10.20" lengthAdjust="spacingAndGlyphs" stroke="#111111" stroke-width="0.08">+2</text>
<line x1="62.20" y1="309.10" x2="463.40" y2="309.10" stroke="#737373" stroke-width="1.3"/>
<line x1="62.20" y1="308.50" x2="62.20" y2="315.20" stroke="#737373" stroke-width="1.3"/>
<line x1="173.60" y1="308.50" x2="173.60" y2="315.20" stroke="#737373" stroke-width="1.3"/>
<line x1="262.20" y1="308.50" x2="262.20" y2="315.20" stroke="#737373" stroke-width="1.3"/>
<line x1="374.70" y1="308.50" x2="374.70" y2="315.20" stroke="#737373" stroke-width="1.3"/>
<line x1="463.40" y1="308.50" x2="463.40" y2="315.20" stroke="#737373" stroke-width="1.3"/>
<text x="44.70" y="324.30" font-size="7.85" fill="#151515" font-weight="bold" textLength="28.20" lengthAdjust="spacingAndGlyphs" stroke="#151515" stroke-width="0.24">1025.06</text>
<text x="155.30" y="324.30" font-size="7.85" fill="#151515" font-weight="bold" textLength="28.60" lengthAdjust="spacingAndGlyphs" stroke="#151515" stroke-width="0.24">1089.10</text>
<text x="245.60" y="324.30" font-size="7.85" fill="#151515" font-weight="bold" textLength="27.30" lengthAdjust="spacingAndGlyphs" stroke="#151515" stroke-width="0.24">1138.64</text>
<text x="357.30" y="324.30" font-size="7.85" fill="#151515" font-weight="bold" textLength="28.70" lengthAdjust="spacingAndGlyphs" stroke="#151515" stroke-width="0.24">1202.68</text>
<text x="445.80" y="324.30" font-size="7.85" fill="#151515" font-weight="bold" textLength="27.90" lengthAdjust="spacingAndGlyphs" stroke="#151515" stroke-width="0.24">1252.21</text>
<text x="104.20" y="326.00" font-size="15.99" fill="#1f9a2a" font-weight="bold" textLength="10.60" lengthAdjust="spacingAndGlyphs" stroke="#1f9a2a" stroke-width="0.24">K</text>
<text x="207.30" y="326.00" font-size="15.99" fill="#1f9a2a" font-weight="bold" textLength="10.30" lengthAdjust="spacingAndGlyphs" stroke="#1f9a2a" stroke-width="0.24">V</text>
<text x="310.90" y="326.00" font-size="15.99" fill="#1f9a2a" font-weight="bold" textLength="10.80" lengthAdjust="spacingAndGlyphs" stroke="#1f9a2a" stroke-width="0.24">K</text>
<text x="409.70" y="326.00" font-size="15.99" fill="#1f3a9a" font-weight="bold" textLength="10.10" lengthAdjust="spacingAndGlyphs" stroke="#1f3a9a" stroke-width="0.24">V</text>
<g><line x1="21.90" y1="339.30" x2="21.90" y2="464.40" stroke="#555" stroke-width="1.2"/>
<line x1="19.20" y1="464.40" x2="21.90" y2="464.40" stroke="#555" stroke-width="1.0"/>
<text x="14.20" y="467.00" font-size="7.56" fill="#111111" font-weight="bold" textLength="4.20" lengthAdjust="spacingAndGlyphs" stroke="#111111" stroke-width="0.09">0</text>
<line x1="19.20" y1="401.85" x2="21.90" y2="401.85" stroke="#555" stroke-width="1.0"/>
<text x="9.99" y="404.45" font-size="7.56" fill="#111111" font-weight="bold" textLength="8.41" lengthAdjust="spacingAndGlyphs" stroke="#111111" stroke-width="0.09">50</text>
<line x1="19.20" y1="339.30" x2="21.90" y2="339.30" stroke="#555" stroke-width="1.0"/>
<text x="5.79" y="341.90" font-size="7.56" fill="#111111" font-weight="bold" textLength="12.61" lengthAdjust="spacingAndGlyphs" stroke="#111111" stroke-width="0.09">100</text>
<line x1="34.00" y1="464.40" x2="477.30" y2="464.40" stroke="#333" stroke-width="1.0"/>
<line x1="42.18" y1="464.40" x2="42.18" y2="465.80" stroke="#333" stroke-width="0.8"/>
<line x1="51.09" y1="464.40" x2="51.09" y2="466.80" stroke="#333" stroke-width="0.8"/>
<line x1="60.01" y1="464.40" x2="60.01" y2="465.80" stroke="#333" stroke-width="0.8"/>
<line x1="68.93" y1="464.40" x2="68.93" y2="466.80" stroke="#333" stroke-width="0.8"/>
<line x1="77.85" y1="464.40" x2="77.85" y2="465.80" stroke="#333" stroke-width="0.8"/>
<line x1="86.77" y1="464.40" x2="86.77" y2="466.80" stroke="#333" stroke-width="0.8"/>
<line x1="95.69" y1="464.40" x2="95.69" y2="465.80" stroke="#333" stroke-width="0.8"/>
<line x1="104.61" y1="464.40" x2="104.61" y2="466.80" stroke="#333" stroke-width="0.8"/>
<line x1="113.52" y1="464.40" x2="113.52" y2="465.80" stroke="#333" stroke-width="0.8"/>
<line x1="122.44" y1="464.40" x2="122.44" y2="466.80" stroke="#333" stroke-width="0.8"/>
<line x1="131.36" y1="464.40" x2="131.36" y2="465.80" stroke="#333" stroke-width="0.8"/>
<line x1="140.28" y1="464.40" x2="140.28" y2="466.80" stroke="#333" stroke-width="0.8"/>
<line x1="149.20" y1="464.40" x2="149.20" y2="465.80" stroke="#333" stroke-width="0.8"/>
<line x1="158.12" y1="464.40" x2="158.12" y2="466.80" stroke="#333" stroke-width="0.8"/>
<line x1="167.03" y1="464.40" x2="167.03" y2="465.80" stroke="#333" stroke-width="0.8"/>
<line x1="175.95" y1="464.40" x2="175.95" y2="466.80" stroke="#333" stroke-width="0.8"/>
<line x1="184.87" y1="464.40" x2="184.87" y2="465.80" stroke="#333" stroke-width="0.8"/>
<line x1="193.79" y1="464.40" x2="193.79" y2="466.80" stroke="#333" stroke-width="0.8"/>
<line x1="202.71" y1="464.40" x2="202.71" y2="465.80" stroke="#333" stroke-width="0.8"/>
<line x1="211.63" y1="464.40" x2="211.63" y2="466.80" stroke="#333" stroke-width="0.8"/>
<line x1="220.55" y1="464.40" x2="220.55" y2="465.80" stroke="#333" stroke-width="0.8"/>
<line x1="229.46" y1="464.40" x2="229.46" y2="466.80" stroke="#333" stroke-width="0.8"/>
<line x1="238.38" y1="464.40" x2="238.38" y2="465.80" stroke="#333" stroke-width="0.8"/>
<line x1="247.30" y1="464.40" x2="247.30" y2="466.80" stroke="#333" stroke-width="0.8"/>
<line x1="256.22" y1="464.40" x2="256.22" y2="465.80" stroke="#333" stroke-width="0.8"/>
<line x1="265.14" y1="464.40" x2="265.14" y2="466.80" stroke="#333" stroke-width="0.8"/>
<line x1="274.06" y1="464.40" x2="274.06" y2="465.80" stroke="#333" stroke-width="0.8"/>
<line x1="282.98" y1="464.40" x2="282.98" y2="466.80" stroke="#333" stroke-width="0.8"/>
<line x1="291.89" y1="464.40" x2="291.89" y2="465.80" stroke="#333" stroke-width="0.8"/>
<line x1="300.81" y1="464.40" x2="300.81" y2="466.80" stroke="#333" stroke-width="0.8"/>
<line x1="309.73" y1="464.40" x2="309.73" y2="465.80" stroke="#333" stroke-width="0.8"/>
<line x1="318.65" y1="464.40" x2="318.65" y2="466.80" stroke="#333" stroke-width="0.8"/>
<line x1="327.57" y1="464.40" x2="327.57" y2="465.80" stroke="#333" stroke-width="0.8"/>
<line x1="336.49" y1="464.40" x2="336.49" y2="466.80" stroke="#333" stroke-width="0.8"/>
<line x1="345.40" y1="464.40" x2="345.40" y2="465.80" stroke="#333" stroke-width="0.8"/>
<line x1="354.32" y1="464.40" x2="354.32" y2="466.80" stroke="#333" stroke-width="0.8"/>
<line x1="363.24" y1="464.40" x2="363.24" y2="465.80" stroke="#333" stroke-width="0.8"/>
<line x1="372.16" y1="464.40" x2="372.16" y2="466.80" stroke="#333" stroke-width="0.8"/>
<line x1="381.08" y1="464.40" x2="381.08" y2="465.80" stroke="#333" stroke-width="0.8"/>
<line x1="390.00" y1="464.40" x2="390.00" y2="466.80" stroke="#333" stroke-width="0.8"/>
<line x1="398.92" y1="464.40" x2="398.92" y2="465.80" stroke="#333" stroke-width="0.8"/>
<line x1="407.83" y1="464.40" x2="407.83" y2="466.80" stroke="#333" stroke-width="0.8"/>
<line x1="416.75" y1="464.40" x2="416.75" y2="465.80" stroke="#333" stroke-width="0.8"/>
<line x1="425.67" y1="464.40" x2="425.67" y2="466.80" stroke="#333" stroke-width="0.8"/>
<line x1="434.59" y1="464.40" x2="434.59" y2="465.80" stroke="#333" stroke-width="0.8"/>
<line x1="443.51" y1="464.40" x2="443.51" y2="466.80" stroke="#333" stroke-width="0.8"/>
<line x1="452.43" y1="464.40" x2="452.43" y2="465.80" stroke="#333" stroke-width="0.8"/>
<line x1="461.35" y1="464.40" x2="461.35" y2="466.80" stroke="#333" stroke-width="0.8"/>
<line x1="470.26" y1="464.40" x2="470.26" y2="465.80" stroke="#333" stroke-width="0.8"/>
<text x="42.69" y="473.70" font-size="7.56" fill="#111111" font-weight="bold" textLength="16.81" lengthAdjust="spacingAndGlyphs" stroke="#111111" stroke-width="0.09">1020</text>
<text x="78.36" y="473.70" font-size="7.56" fill="#111111" font-weight="bold" textLength="16.81" lengthAdjust="spacingAndGlyphs" stroke="#111111" stroke-width="0.09">1040</text>
<text x="114.03" y="473.70" font-size="7.56" fill="#111111" font-weight="bold" textLength="16.81" lengthAdjust="spacingAndGlyphs" stroke="#111111" stroke-width="0.09">1060</text>
<text x="149.71" y="473.70" font-size="7.56" fill="#111111" font-weight="bold" textLength="16.81" lengthAdjust="spacingAndGlyphs" stroke="#111111" stroke-width="0.09">1080</text>
<text x="185.59" y="473.70" font-size="7.56" fill="#111111" font-weight="bold" textLength="16.40" lengthAdjust="spacingAndGlyphs" stroke="#111111" stroke-width="0.09">1100</text>
<text x="221.27" y="473.70" font-size="7.56" fill="#111111" font-weight="bold" textLength="16.40" lengthAdjust="spacingAndGlyphs" stroke="#111111" stroke-width="0.09">1120</text>
<text x="256.94" y="473.70" font-size="7.56" fill="#111111" font-weight="bold" textLength="16.40" lengthAdjust="spacingAndGlyphs" stroke="#111111" stroke-width="0.09">1140</text>
<text x="292.61" y="473.70" font-size="7.56" fill="#111111" font-weight="bold" textLength="16.40" lengthAdjust="spacingAndGlyphs" stroke="#111111" stroke-width="0.09">1160</text>
<text x="328.29" y="473.70" font-size="7.56" fill="#111111" font-weight="bold" textLength="16.40" lengthAdjust="spacingAndGlyphs" stroke="#111111" stroke-width="0.09">1180</text>
<text x="363.75" y="473.70" font-size="7.56" fill="#111111" font-weight="bold" textLength="16.81" lengthAdjust="spacingAndGlyphs" stroke="#111111" stroke-width="0.09">1200</text>
<text x="399.43" y="473.70" font-size="7.56" fill="#111111" font-weight="bold" textLength="16.81" lengthAdjust="spacingAndGlyphs" stroke="#111111" stroke-width="0.09">1220</text>
<text x="435.10" y="473.70" font-size="7.56" fill="#111111" font-weight="bold" textLength="16.81" lengthAdjust="spacingAndGlyphs" stroke="#111111" stroke-width="0.09">1240</text>
<line x1="36.70" y1="464.40" x2="36.70" y2="432.00" stroke="#111111" stroke-width="1.0"/>
<line x1="46.40" y1="464.40" x2="46.40" y2="433.10" stroke="#ff3838" stroke-width="1.3"/>
<line x1="61.40" y1="464.40" x2="61.40" y2="436.20" stroke="#ff3838" stroke-width="1.3"/>
<line x1="124.20" y1="464.40" x2="124.20" y2="447.50" stroke="#111111" stroke-width="1.0"/>
<line x1="133.90" y1="464.40" x2="133.90" y2="438.20" stroke="#111111" stroke-width="1.0"/>
<line x1="138.00" y1="464.40" x2="138.00" y2="426.40" stroke="#111111" stroke-width="1.0"/>
<line x1="144.80" y1="464.40" x2="144.80" y2="445.50" stroke="#111111" stroke-width="1.0"/>
<line x1="149.40" y1="464.40" x2="149.40" y2="438.20" stroke="#111111" stroke-width="1.0"/>
<line x1="159.70" y1="464.40" x2="159.70" y2="374.30" stroke="#ff3838" stroke-width="1.3"/>
<line x1="174.50" y1="464.40" x2="174.50" y2="340.30" stroke="#ff3838" stroke-width="1.3"/>
<line x1="210.50" y1="464.40" x2="210.50" y2="444.30" stroke="#111111" stroke-width="1.0"/>
<line x1="225.80" y1="464.40" x2="225.80" y2="431.40" stroke="#111111" stroke-width="1.0"/>
<line x1="248.00" y1="464.40" x2="248.00" y2="357.40" stroke="#ff3838" stroke-width="1.3"/>
<line x1="262.90" y1="464.40" x2="262.90" y2="373.40" stroke="#ff3838" stroke-width="1.3"/>
<line x1="307.50" y1="464.40" x2="307.50" y2="432.50" stroke="#ff3838" stroke-width="1.3"/>
<line x1="340.50" y1="464.40" x2="340.50" y2="438.60" stroke="#111111" stroke-width="1.0"/>
<line x1="348.40" y1="464.40" x2="348.40" y2="447.00" stroke="#111111" stroke-width="1.0"/>
<line x1="361.30" y1="464.40" x2="361.30" y2="416.20" stroke="#ff3838" stroke-width="1.3"/>
<line x1="376.80" y1="464.40" x2="376.80" y2="431.00" stroke="#ff3838" stroke-width="1.3"/>
<line x1="450.70" y1="464.40" x2="450.70" y2="438.20" stroke="#111111" stroke-width="1.0"/>
<line x1="464.90" y1="464.40" x2="464.90" y2="435.80" stroke="#ff3838" stroke-width="1.3"/>
<text x="53.10" y="434.40" font-size="6.80" fill="#2a9a2a" font-weight="bold">y</text>
<text x="56.88" y="436.70" font-size="5.00" fill="#2a9a2a" font-weight="bold">9</text>
<text x="61.46" y="432.60" font-size="5.20" fill="#2a9a2a" font-weight="bold">+2</text>
<text x="164.50" y="331.50" font-size="6.80" fill="#2a9a2a" font-weight="bold">y</text>
<text x="168.28" y="333.80" font-size="5.00" fill="#2a9a2a" font-weight="bold">10</text>
<text x="175.64" y="329.70" font-size="5.20" fill="#2a9a2a" font-weight="bold">+2</text>
<text x="166.30" y="339.00" font-size="6.80" fill="#3333ff" font-weight="bold">b</text>
<text x="170.45" y="341.30" font-size="5.00" fill="#3333ff" font-weight="bold">6</text>
<text x="175.03" y="337.20" font-size="5.20" fill="#3333ff" font-weight="bold">+2</text>
<text x="253.00" y="371.90" font-size="6.80" fill="#2a9a2a" font-weight="bold">y</text>
<text x="256.78" y="374.20" font-size="5.00" fill="#2a9a2a" font-weight="bold">11</text>
<text x="263.87" y="370.10" font-size="5.20" fill="#2a9a2a" font-weight="bold">+2</text>
<text x="366.30" y="422.50" font-size="6.80" fill="#2a9a2a" font-weight="bold">y</text>
<text x="370.08" y="424.80" font-size="5.00" fill="#2a9a2a" font-weight="bold">12</text>
<text x="377.44" y="420.70" font-size="5.20" fill="#2a9a2a" font-weight="bold">+2</text>
<text x="368.60" y="429.50" font-size="6.80" fill="#3333ff" font-weight="bold">y</text>
<text x="372.38" y="431.80" font-size="5.00" fill="#3333ff" font-weight="bold">7</text>
<text x="376.96" y="427.70" font-size="5.20" fill="#3333ff" font-weight="bold">+2</text>
<text x="456.40" y="434.50" font-size="6.80" fill="#3333ff" font-weight="bold">y</text>
<text x="460.18" y="436.80" font-size="5.00" fill="#3333ff" font-weight="bold">8</text>
<text x="464.76" y="432.70" font-size="5.20" fill="#3333ff" font-weight="bold">+2</text></g>
<g transform="translate(-0.7,266.8)"><line x1="21.90" y1="339.30" x2="21.90" y2="464.40" stroke="#555" stroke-width="1.2"/>
<line x1="19.20" y1="464.40" x2="21.90" y2="464.40" stroke="#555" stroke-width="1.0"/>
<text x="14.20" y="467.00" font-size="7.56" fill="#111111" font-weight="bold" textLength="4.20" lengthAdjust="spacingAndGlyphs" stroke="#111111" stroke-width="0.09">0</text>
<line x1="19.20" y1="401.85" x2="21.90" y2="401.85" stroke="#555" stroke-width="1.0"/>
<text x="9.99" y="404.45" font-size="7.56" fill="#111111" font-weight="bold" textLength="8.41" lengthAdjust="spacingAndGlyphs" stroke="#111111" stroke-width="0.09">50</text>
<line x1="19.20" y1="339.30" x2="21.90" y2="339.30" stroke="#555" stroke-width="1.0"/>
<text x="5.79" y="341.90" font-size="7.56" fill="#111111" font-weight="bold" textLength="12.61" lengthAdjust="spacingAndGlyphs" stroke="#111111" stroke-width="0.09">100</text>
<line x1="34.00" y1="464.40" x2="477.30" y2="464.40" stroke="#333" stroke-width="1.0"/>
<line x1="42.18" y1="464.40" x2="42.18" y2="465.80" stroke="#333" stroke-width="0.8"/>
<line x1="51.09" y1="464.40" x2="51.09" y2="466.80" stroke="#333" stroke-width="0.8"/>
<line x1="60.01" y1="464.40" x2="60.01" y2="465.80" stroke="#333" stroke-width="0.8"/>
<line x1="68.93" y1="464.40" x2="68.93" y2="466.80" stroke="#333" stroke-width="0.8"/>
<line x1="77.85" y1="464.40" x2="77.85" y2="465.80" stroke="#333" stroke-width="0.8"/>
<line x1="86.77" y1="464.40" x2="86.77" y2="466.80" stroke="#333" stroke-width="0.8"/>
<line x1="95.69" y1="464.40" x2="95.69" y2="465.80" stroke="#333" stroke-width="0.8"/>
<line x1="104.61" y1="464.40" x2="104.61" y2="466.80" stroke="#333" stroke-width="0.8"/>
<line x1="113.52" y1="464.40" x2="113.52" y2="465.80" stroke="#333" stroke-width="0.8"/>
<line x1="122.44" y1="464.40" x2="122.44" y2="466.80" stroke="#333" stroke-width="0.8"/>
<line x1="131.36" y1="464.40" x2="131.36" y2="465.80" stroke="#333" stroke-width="0.8"/>
<line x1="140.28" y1="464.40" x2="140.28" y2="466.80" stroke="#333" stroke-width="0.8"/>
<line x1="149.20" y1="464.40" x2="149.20" y2="465.80" stroke="#333" stroke-width="0.8"/>
<line x1="158.12" y1="464.40" x2="158.12" y2="466.80" stroke="#333" stroke-width="0.8"/>
<line x1="167.03" y1="464.40" x2="167.03" y2="465.80" stroke="#333" stroke-width="0.8"/>
<line x1="175.95" y1="464.40" x2="175.95" y2="466.80" stroke="#333" stroke-width="0.8"/>
<line x1="184.87" y1="464.40" x2="184.87" y2="465.80" stroke="#333" stroke-width="0.8"/>
<line x1="193.79" y1="464.40" x2="193.79" y2="466.80" stroke="#333" stroke-width="0.8"/>
<line x1="202.71" y1="464.40" x2="202.71" y2="465.80" stroke="#333" stroke-width="0.8"/>
<line x1="211.63" y1="464.40" x2="211.63" y2="466.80" stroke="#333" stroke-width="0.8"/>
<line x1="220.55" y1="464.40" x2="220.55" y2="465.80" stroke="#333" stroke-width="0.8"/>
<line x1="229.46" y1="464.40" x2="229.46" y2="466.80" stroke="#333" stroke-width="0.8"/>
<line x1="238.38" y1="464.40" x2="238.38" y2="465.80" stroke="#333" stroke-width="0.8"/>
<line x1="247.30" y1="464.40" x2="247.30" y2="466.80" stroke="#333" stroke-width="0.8"/>
<line x1="256.22" y1="464.40" x2="256.22" y2="465.80" stroke="#333" stroke-width="0.8"/>
<line x1="265.14" y1="464.40" x2="265.14" y2="466.80" stroke="#333" stroke-width="0.8"/>
<line x1="274.06" y1="464.40" x2="274.06" y2="465.80" stroke="#333" stroke-width="0.8"/>
<line x1="282.98" y1="464.40" x2="282.98" y2="466.80" stroke="#333" stroke-width="0.8"/>
<line x1="291.89" y1="464.40" x2="291.89" y2="465.80" stroke="#333" stroke-width="0.8"/>
<line x1="300.81" y1="464.40" x2="300.81" y2="466.80" stroke="#333" stroke-width="0.8"/>
<line x1="309.73" y1="464.40" x2="309.73" y2="465.80" stroke="#333" stroke-width="0.8"/>
<line x1="318.65" y1="464.40" x2="318.65" y2="466.80" stroke="#333" stroke-width="0.8"/>
<line x1="327.57" y1="464.40" x2="327.57" y2="465.80" stroke="#333" stroke-width="0.8"/>
<line x1="336.49" y1="464.40" x2="336.49" y2="466.80" stroke="#333" stroke-width="0.8"/>
<line x1="345.40" y1="464.40" x2="345.40" y2="465.80" stroke="#333" stroke-width="0.8"/>
<line x1="354.32" y1="464.40" x2="354.32" y2="466.80" stroke="#333" stroke-width="0.8"/>
<line x1="363.24" y1="464.40" x2="363.24" y2="465.80" stroke="#333" stroke-width="0.8"/>
<line x1="372.16" y1="464.40" x2="372.16" y2="466.80" stroke="#333" stroke-width="0.8"/>
<line x1="381.08" y1="464.40" x2="381.08" y2="465.80" stroke="#333" stroke-width="0.8"/>
<line x1="390.00" y1="464.40" x2="390.00" y2="466.80" stroke="#333" stroke-width="0.8"/>
<line x1="398.92" y1="464.40" x2="398.92" y2="465.80" stroke="#333" stroke-width="0.8"/>
<line x1="407.83" y1="464.40" x2="407.83" y2="466.80" stroke="#333" stroke-width="0.8"/>
<line x1="416.75" y1="464.40" x2="416.75" y2="465.80" stroke="#333" stroke-width="0.8"/>
<line x1="425.67" y1="464.40" x2="425.67" y2="466.80" stroke="#333" stroke-width="0.8"/>
<line x1="434.59" y1="464.40" x2="434.59" y2="465.80" stroke="#333" stroke-width="0.8"/>
<line x1="443.51" y1="464.40" x2="443.51" y2="466.80" stroke="#333" stroke-width="0.8"/>
<line x1="452.43" y1="464.40" x2="452.43" y2="465.80" stroke="#333" stroke-width="0.8"/>
<line x1="461.35" y1="464.40" x2="461.35" y2="466.80" stroke="#333" stroke-width="0.8"/>
<line x1="470.26" y1="464.40" x2="470.26" y2="465.80" stroke="#333" stroke-width="0.8"/>
<text x="42.69" y="473.70" font-size="7.56" fill="#111111" font-weight="bold" textLength="16.81" lengthAdjust="spacingAndGlyphs" stroke="#111111" stroke-width="0.09">1020</text>
<text x="78.36" y="473.70" font-size="7.56" fill="#111111" font-weight="bold" textLength="16.81" lengthAdjust="spacingAndGlyphs" stroke="#111111" stroke-width="0.09">1040</text>
<text x="114.03" y="473.70" font-size="7.56" fill="#111111" font-weight="bold" textLength="16.81" lengthAdjust="spacingAndGlyphs" stroke="#111111" stroke-width="0.09">1060</text>
<text x="149.71" y="473.70" font-size="7.56" fill="#111111" font-weight="bold" textLength="16.81" lengthAdjust="spacingAndGlyphs" stroke="#111111" stroke-width="0.09">1080</text>
<text x="185.59" y="473.70" font-size="7.56" fill="#111111" font-weight="bold" textLength="16.40" lengthAdjust="spacingAndGlyphs" stroke="#111111" stroke-width="0.09">1100</text>
<text x="221.27" y="473.70" font-size="7.56" fill="#111111" font-weight="bold" textLength="16.40" lengthAdjust="spacingAndGlyphs" stroke="#111111" stroke-width="0.09">1120</text>
<text x="256.94" y="473.70" font-size="7.56" fill="#111111" font-weight="bold" textLength="16.40" lengthAdjust="spacingAndGlyphs" stroke="#111111" stroke-width="0.09">1140</text>
<text x="292.61" y="473.70" font-size="7.56" fill="#111111" font-weight="bold" textLength="16.40" lengthAdjust="spacingAndGlyphs" stroke="#111111" stroke-width="0.09">1160</text>
<text x="328.29" y="473.70" font-size="7.56" fill="#111111" font-weight="bold" textLength="16.40" lengthAdjust="spacingAndGlyphs" stroke="#111111" stroke-width="0.09">1180</text>
<text x="363.75" y="473.70" font-size="7.56" fill="#111111" font-weight="bold" textLength="16.81" lengthAdjust="spacingAndGlyphs" stroke="#111111" stroke-width="0.09">1200</text>
<text x="399.43" y="473.70" font-size="7.56" fill="#111111" font-weight="bold" textLength="16.81" lengthAdjust="spacingAndGlyphs" stroke="#111111" stroke-width="0.09">1220</text>
<text x="435.10" y="473.70" font-size="7.56" fill="#111111" font-weight="bold" textLength="16.81" lengthAdjust="spacingAndGlyphs" stroke="#111111" stroke-width="0.09">1240</text>
<line x1="36.70" y1="464.40" x2="36.70" y2="432.00" stroke="#111111" stroke-width="1.0"/>
<line x1="46.40" y1="464.40" x2="46.40" y2="433.10" stroke="#ff3838" stroke-width="1.3"/>
<line x1="61.40" y1="464.40" x2="61.40" y2="436.20" stroke="#ff3838" stroke-width="1.3"/>
<line x1="124.20" y1="464.40" x2="124.20" y2="447.50" stroke="#111111" stroke-width="1.0"/>
<line x1="133.90" y1="464.40" x2="133.90" y2="438.20" stroke="#111111" stroke-width="1.0"/>
<line x1="138.00" y1="464.40" x2="138.00" y2="426.40" stroke="#111111" stroke-width="1.0"/>
<line x1="144.80" y1="464.40" x2="144.80" y2="445.50" stroke="#111111" stroke-width="1.0"/>
<line x1="149.40" y1="464.40" x2="149.40" y2="438.20" stroke="#111111" stroke-width="1.0"/>
<line x1="159.70" y1="464.40" x2="159.70" y2="374.30" stroke="#ff3838" stroke-width="1.3"/>
<line x1="174.50" y1="464.40" x2="174.50" y2="340.30" stroke="#ff3838" stroke-width="1.3"/>
<line x1="210.50" y1="464.40" x2="210.50" y2="444.30" stroke="#111111" stroke-width="1.0"/>
<line x1="225.80" y1="464.40" x2="225.80" y2="431.40" stroke="#111111" stroke-width="1.0"/>
<line x1="248.00" y1="464.40" x2="248.00" y2="357.40" stroke="#ff3838" stroke-width="1.3"/>
<line x1="262.90" y1="464.40" x2="262.90" y2="373.40" stroke="#ff3838" stroke-width="1.3"/>
<line x1="307.50" y1="464.40" x2="307.50" y2="432.50" stroke="#ff3838" stroke-width="1.3"/>
<line x1="340.50" y1="464.40" x2="340.50" y2="438.60" stroke="#111111" stroke-width="1.0"/>
<line x1="348.40" y1="464.40" x2="348.40" y2="447.00" stroke="#111111" stroke-width="1.0"/>
<line x1="361.30" y1="464.40" x2="361.30" y2="416.20" stroke="#ff3838" stroke-width="1.3"/>
<line x1="376.80" y1="464.40" x2="376.80" y2="431.00" stroke="#ff3838" stroke-width="1.3"/>
<line x1="450.70" y1="464.40" x2="450.70" y2="438.20" stroke="#111111" stroke-width="1.0"/>
<line x1="464.90" y1="464.40" x2="464.90" y2="435.80" stroke="#ff3838" stroke-width="1.3"/>
<text x="53.10" y="434.40" font-size="6.80" fill="#2a9a2a" font-weight="bold">y</text>
<text x="56.88" y="436.70" font-size="5.00" fill="#2a9a2a" font-weight="bold">9</text>
<text x="61.46" y="432.60" font-size="5.20" fill="#2a9a2a" font-weight="bold">+2</text>
<text x="164.50" y="331.50" font-size="6.80" fill="#2a9a2a" font-weight="bold">y</text>
<text x="168.28" y="333.80" font-size="5.00" fill="#2a9a2a" font-weight="bold">10</text>
<text x="175.64" y="329.70" font-size="5.20" fill="#2a9a2a" font-weight="bold">+2</text>
<text x="166.30" y="339.00" font-size="6.80" fill="#3333ff" font-weight="bold">b</text>
<text x="170.45" y="341.30" font-size="5.00" fill="#3333ff" font-weight="bold">6</text>
<text x="175.03" y="337.20" font-size="5.20" fill="#3333ff" font-weight="bold">+2</text>
<text x="253.00" y="371.90" font-size="6.80" fill="#2a9a2a" font-weight="bold">y</text>
<text x="256.78" y="374.20" font-size="5.00" fill="#2a9a2a" font-weight="bold">11</text>
<text x="263.87" y="370.10" font-size="5.20" fill="#2a9a2a" font-weight="bold">+2</text>
<text x="366.30" y="422.50" font-size="6.80" fill="#2a9a2a" font-weight="bold">y</text>
<text x="370.08" y="424.80" font-size="5.00" fill="#2a9a2a" font-weight="bold">12</text>
<text x="377.44" y="420.70" font-size="5.20" fill="#2a9a2a" font-weight="bold">+2</text>
<text x="368.60" y="429.50" font-size="6.80" fill="#3333ff" font-weight="bold">y</text>
<text x="372.38" y="431.80" font-size="5.00" fill="#3333ff" font-weight="bold">7</text>
<text x="376.96" y="427.70" font-size="5.20" fill="#3333ff" font-weight="bold">+2</text>
<text x="456.40" y="434.50" font-size="6.80" fill="#3333ff" font-weight="bold">y</text>
<text x="460.18" y="436.80" font-size="5.00" fill="#3333ff" font-weight="bold">8</text>
<text x="464.76" y="432.70" font-size="5.20" fill="#3333ff" font-weight="bold">+2</text></g>
<text x="3.10" y="508.60" font-size="28.49" fill="#000" font-weight="bold" textLength="17.90" lengthAdjust="spacingAndGlyphs" stroke="#000" stroke-width="0.43">C</text>
<text x="278.00" y="500.20" font-size="7.85" fill="#1f9a2a" font-weight="bold" textLength="84.50" lengthAdjust="spacingAndGlyphs" stroke="#1f9a2a" stroke-width="0.09">AVNKVKDTPGLGKVK</text>
<text x="372.90" y="500.20" font-size="7.85" fill="#1f9a2a" font-weight="bold" textLength="84.90" lengthAdjust="spacingAndGlyphs" stroke="#1f9a2a" stroke-width="0.09">AVNKVKDTPGLGKVK</text>
<line x1="347.20" y1="502.00" x2="347.20" y2="506.50" stroke="#222" stroke-width="1"/>
<line x1="442.20" y1="502.00" x2="442.20" y2="506.50" stroke="#222" stroke-width="1"/>
<text x="336.70" y="513.90" font-size="8.14" fill="#1f3a9a" font-weight="bold" textLength="32.20" lengthAdjust="spacingAndGlyphs" stroke="#1f3a9a" stroke-width="0.1">DIEISHR</text>
<text x="370.20" y="512.00" font-size="5.96" fill="#111111" font-weight="bold" textLength="6.70" lengthAdjust="spacingAndGlyphs" stroke="#111111" stroke-width="0.07">+2</text>
<text x="425.60" y="513.20" font-size="7.27" fill="#1f3a9a" font-weight="bold" textLength="38.40" lengthAdjust="spacingAndGlyphs" stroke="#1f3a9a" stroke-width="0.09">VDIEISHR</text>
<text x="464.80" y="510.60" font-size="6.10" fill="#111111" font-weight="bold" textLength="7.10" lengthAdjust="spacingAndGlyphs" stroke="#111111" stroke-width="0.07">+2</text>
<text x="358.40" y="521.00" font-size="7.85" fill="#151515" font-weight="bold" textLength="28.60" lengthAdjust="spacingAndGlyphs" stroke="#151515" stroke-width="0.24">1202.68</text>
<text x="446.20" y="520.30" font-size="7.12" fill="#151515" font-weight="bold" textLength="27.70" lengthAdjust="spacingAndGlyphs" stroke="#151515" stroke-width="0.21">1252.21</text>
<text x="367.90" y="530.00" font-size="6.69" fill="#1f3a9a" font-weight="bold" textLength="8.00" lengthAdjust="spacingAndGlyphs" stroke="#1f3a9a" stroke-width="0.08">y7</text>
<text x="377.20" y="528.00" font-size="5.23" fill="#1f3a9a" font-weight="bold" textLength="6.80" lengthAdjust="spacingAndGlyphs" stroke="#1f3a9a" stroke-width="0.06">+2</text>
<text x="457.80" y="528.80" font-size="6.69" fill="#1f3a9a" font-weight="bold" textLength="8.70" lengthAdjust="spacingAndGlyphs" stroke="#1f3a9a" stroke-width="0.08">y8</text>
<text x="467.30" y="526.80" font-size="5.23" fill="#1f3a9a" font-weight="bold" textLength="6.60" lengthAdjust="spacingAndGlyphs" stroke="#1f3a9a" stroke-width="0.06">+2</text>
<text x="18.20" y="546.60" font-size="10.17" fill="#1f9a2a" font-weight="bold" textLength="62.20" lengthAdjust="spacingAndGlyphs" stroke="#1f9a2a" stroke-width="0.12">DTPGLGKVK</text>
<line x1="63.80" y1="549.00" x2="63.80" y2="557.30" stroke="#222" stroke-width="1.1"/>
<text x="28.20" y="567.50" font-size="10.03" fill="#1f3a9a" font-weight="bold" textLength="63.00" lengthAdjust="spacingAndGlyphs" stroke="#1f3a9a" stroke-width="0.12">KGVDIEISHR</text>
<text x="91.80" y="565.00" font-size="7.27" fill="#1f3a9a" font-weight="bold" textLength="9.50" lengthAdjust="spacingAndGlyphs" stroke="#1f3a9a" stroke-width="0.09">+2</text>
<text x="115.90" y="546.60" font-size="10.17" fill="#1f9a2a" font-weight="bold" textLength="70.30" lengthAdjust="spacingAndGlyphs" stroke="#1f9a2a" stroke-width="0.12">KDTPGLGKVK</text>
<line x1="167.90" y1="549.00" x2="167.90" y2="557.30" stroke="#222" stroke-width="1.1"/>
<text x="133.90" y="567.50" font-size="10.03" fill="#1f3a9a" font-weight="bold" textLength="62.40" lengthAdjust="spacingAndGlyphs" stroke="#1f3a9a" stroke-width="0.12">KGVDIEISHR</text>
<text x="196.90" y="565.00" font-size="7.27" fill="#1f3a9a" font-weight="bold" textLength="8.00" lengthAdjust="spacingAndGlyphs" stroke="#1f3a9a" stroke-width="0.09">+2</text>
<text x="212.10" y="546.60" font-size="10.17" fill="#1f9a2a" font-weight="bold" textLength="75.00" lengthAdjust="spacingAndGlyphs" stroke="#1f9a2a" stroke-width="0.12">VKDTPGLGKVK</text>
<line x1="272.40" y1="549.00" x2="272.40" y2="557.30" stroke="#222" stroke-width="1.1"/>
<text x="236.20" y="567.50" font-size="10.03" fill="#1f3a9a" font-weight="bold" textLength="63.00" lengthAdjust="spacingAndGlyphs" stroke="#1f3a9a" stroke-width="0.12">KGVDIEISHR</text>
<text x="299.80" y="565.00" font-size="7.27" fill="#1f3a9a" font-weight="bold" textLength="10.10" lengthAdjust="spacingAndGlyphs" stroke="#1f3a9a" stroke-width="0.09">+2</text>
<text x="310.20" y="546.60" font-size="10.17" fill="#1f9a2a" font-weight="bold" textLength="83.60" lengthAdjust="spacingAndGlyphs" stroke="#1f9a2a" stroke-width="0.12">KVKDTPGLGKVK</text>
<line x1="377.00" y1="549.00" x2="377.00" y2="557.30" stroke="#222" stroke-width="1.1"/>
<text x="341.60" y="567.50" font-size="10.03" fill="#1f3a9a" font-weight="bold" textLength="62.40" lengthAdjust="spacingAndGlyphs" stroke="#1f3a9a" stroke-width="0.12">KGVDIEISHR</text>
<text x="404.60" y="565.00" font-size="7.27" fill="#1f3a9a" font-weight="bold" textLength="8.00" lengthAdjust="spacingAndGlyphs" stroke="#1f3a9a" stroke-width="0.09">+2</text>
<line x1="61.00" y1="571.20" x2="464.00" y2="571.20" stroke="#737373" stroke-width="1.3"/>
<line x1="61.00" y1="570.60" x2="61.00" y2="576.20" stroke="#737373" stroke-width="1.3"/>
<line x1="175.40" y1="570.60" x2="175.40" y2="576.20" stroke="#737373" stroke-width="1.3"/>
<line x1="262.50" y1="570.60" x2="262.50" y2="576.20" stroke="#737373" stroke-width="1.3"/>
<line x1="375.60" y1="570.60" x2="375.60" y2="576.20" stroke="#737373" stroke-width="1.3"/>
<line x1="464.00" y1="570.60" x2="464.00" y2="576.20" stroke="#737373" stroke-width="1.3"/>
<text x="44.60" y="587.00" font-size="7.56" fill="#151515" font-weight="bold" textLength="28.30" lengthAdjust="spacingAndGlyphs" stroke="#151515" stroke-width="0.23">1025.05</text>
<text x="157.20" y="587.00" font-size="7.56" fill="#151515" font-weight="bold" textLength="29.00" lengthAdjust="spacingAndGlyphs" stroke="#151515" stroke-width="0.23">1089.10</text>
<text x="245.60" y="587.00" font-size="7.56" fill="#151515" font-weight="bold" textLength="27.30" lengthAdjust="spacingAndGlyphs" stroke="#151515" stroke-width="0.23">1138.63</text>
<text x="357.60" y="587.00" font-size="7.56" fill="#151515" font-weight="bold" textLength="28.70" lengthAdjust="spacingAndGlyphs" stroke="#151515" stroke-width="0.23">1202.68</text>
<text x="445.80" y="587.00" font-size="7.56" fill="#151515" font-weight="bold" textLength="27.90" lengthAdjust="spacingAndGlyphs" stroke="#151515" stroke-width="0.23">1252.21</text>
<text x="107.50" y="587.90" font-size="17.01" fill="#1f9a2a" font-weight="bold" textLength="10.50" lengthAdjust="spacingAndGlyphs" stroke="#1f9a2a" stroke-width="0.26">K</text>
<text x="206.50" y="587.90" font-size="17.01" fill="#1f9a2a" font-weight="bold" textLength="10.00" lengthAdjust="spacingAndGlyphs" stroke="#1f9a2a" stroke-width="0.26">V</text>
<text x="313.60" y="587.90" font-size="17.01" fill="#1f9a2a" font-weight="bold" textLength="11.00" lengthAdjust="spacingAndGlyphs" stroke="#1f9a2a" stroke-width="0.26">K</text>
<text x="415.80" y="587.90" font-size="17.01" fill="#1f3a9a" font-weight="bold" textLength="10.20" lengthAdjust="spacingAndGlyphs" stroke="#1f3a9a" stroke-width="0.26">V</text>
<text x="56.80" y="596.60" font-size="8.14" fill="#1f9a2a" font-weight="bold" textLength="9.40" lengthAdjust="spacingAndGlyphs" stroke="#1f9a2a" stroke-width="0.1">y9</text>
<text x="66.80" y="594.40" font-size="5.52" fill="#1f9a2a" font-weight="bold" textLength="6.60" lengthAdjust="spacingAndGlyphs" stroke="#1f9a2a" stroke-width="0.07">+2</text>
<text x="255.80" y="596.60" font-size="8.14" fill="#1f9a2a" font-weight="bold" textLength="11.70" lengthAdjust="spacingAndGlyphs" stroke="#1f9a2a" stroke-width="0.1">y11</text>
<text x="268.10" y="594.40" font-size="5.52" fill="#1f9a2a" font-weight="bold" textLength="6.90" lengthAdjust="spacingAndGlyphs" stroke="#1f9a2a" stroke-width="0.07">+2</text>
<text x="370.20" y="596.60" font-size="8.14" fill="#1f9a2a" font-weight="bold" textLength="11.80" lengthAdjust="spacingAndGlyphs" stroke="#1f9a2a" stroke-width="0.1">y12</text>
<text x="382.60" y="594.40" font-size="5.52" fill="#1f9a2a" font-weight="bold" textLength="7.20" lengthAdjust="spacingAndGlyphs" stroke="#1f9a2a" stroke-width="0.07">+2</text>
<text x="236.10" y="747.60" font-size="7.70" fill="#111111" font-weight="bold" textLength="38.40" lengthAdjust="spacingAndGlyphs" stroke="#111111" stroke-width="0.09">Mass (m/z)</text>
</svg></body></html>
